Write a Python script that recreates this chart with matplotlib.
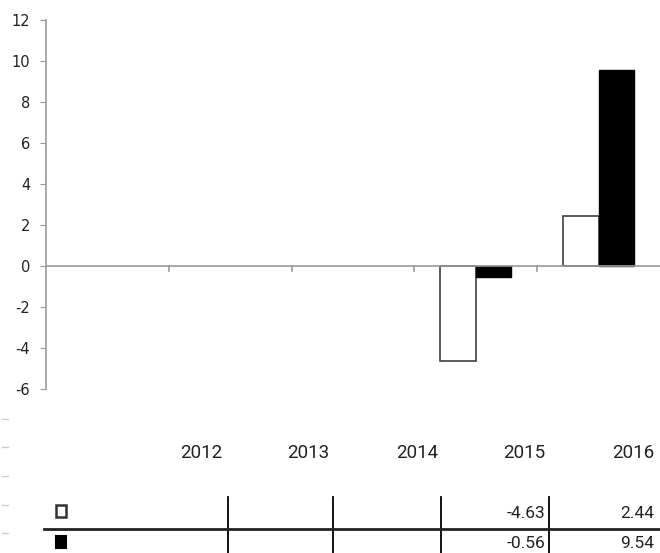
import matplotlib.pyplot as plt
import numpy as np

plt.rcParams["axes.unicode_minus"] = False

years = ["2012", "2013", "2014", "2015", "2016"]
series_open = [np.nan, np.nan, np.nan, -4.63, 2.44]
series_filled = [np.nan, np.nan, np.nan, -0.56, 9.54]
table_open = ["", "", "", "-4.63", "2.44"]
table_filled = ["", "", "", "-0.56", "9.54"]

W, H = 660, 553
fig = plt.figure(figsize=(W / 100, H / 100), dpi=100)

def fx(px):
    return px / W

def fy(py):
    return 1 - py / H

ax = fig.add_axes([fx(46), fy(389), fx(660) - fx(46), fy(20) - fy(389)])

x = np.arange(len(years))
w = 0.29
ax.bar(x - w / 2, series_open, w, color="white", edgecolor="#404040", linewidth=1.2)
ax.bar(x + w / 2, series_filled, w, color="black", edgecolor="black", linewidth=1)

ax.set_xlim(-0.5, len(years) - 0.5)
ax.set_ylim(-6, 12)
ax.set_yticks(np.arange(-6, 13, 2))
ax.tick_params(axis="y", direction="out", length=4.3, color="#999999", labelsize=10.5,
               labelcolor="#222222", pad=7)
ax.set_xticks([])
for s in ["top", "right", "bottom"]:
    ax.spines[s].set_visible(False)
ax.spines["left"].set_color("#999999")
ax.spines["left"].set_linewidth(1.2)
ax.axhline(0, color="#999999", linewidth=1.2)
# category ticks on the zero line
for b in np.arange(0.5, len(years) - 0.5, 1):
    ax.plot([b, b], [0, -0.25], color="#999999", linewidth=1.2, clip_on=False)

# data table below the chart
col_right = [222, 329, 438, 545, 654]
col_lines = [228, 333, 441, 549]
for i, yr in enumerate(years):
    fig.text(fx(col_right[i]), fy(453), yr, ha="right", va="center", fontsize=13.5,
             family="Roboto", color="#222222")
    fig.text(fx(col_right[i]), fy(513), table_open[i], ha="right", va="center", fontsize=12.5,
             family="Roboto", color="#222222")
    fig.text(fx(col_right[i]), fy(543), table_filled[i], ha="right", va="center", fontsize=12.5,
             family="Roboto", color="#222222")
for cx in col_lines:
    fig.add_artist(plt.Line2D([fx(cx), fx(cx)], [fy(497), fy(553)], color="black", linewidth=1.3))
fig.add_artist(plt.Line2D([fx(44), fx(660)], [fy(529), fy(529)], color="#222222", linewidth=2))

fig.add_artist(plt.Rectangle((fx(56), fy(517)), fx(10), fy(505) - fy(517), facecolor="white",
                             edgecolor="#333333", linewidth=1.8))
fig.add_artist(plt.Rectangle((fx(56), fy(548)), fx(10), fy(536) - fy(548), facecolor="black",
                             edgecolor="black", linewidth=1.5))

for dy in [419, 447, 476, 505, 533]:
    fig.add_artist(plt.Line2D([fx(2), fx(8)], [fy(dy), fy(dy)], color="#cccccc", linewidth=1))

fig.savefig("out.png", dpi=100)
